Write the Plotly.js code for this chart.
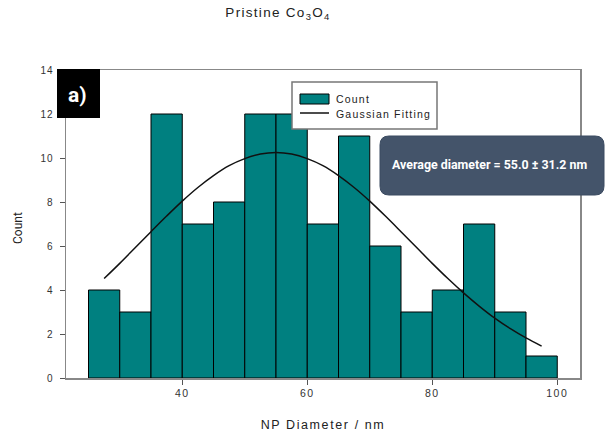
<!DOCTYPE html>
<html>
<head>
<meta charset="utf-8">
<script src="https://cdn.plot.ly/plotly-3.0.1.min.js"></script>
<style>
html, body { margin: 0; padding: 0; background: #fff; }
#chart { width: 605px; height: 437px; }
.xtick text { letter-spacing: 1.5px; }
.ytick text { letter-spacing: 1px; }
.gtitle { letter-spacing: 1.3px; }
.xtitle { letter-spacing: 1.6px; }
.annotation[data-index="1"] text, .annotation[data-index="2"] text { letter-spacing: 1.2px; }
</style>
</head>
<body>
<div id="chart"></div>
<script>
// Histogram bins (NP diameter, nm) and counts
const binCenters = [27.5, 32.5, 37.5, 42.5, 47.5, 52.5, 57.5, 62.5, 67.5, 72.5, 77.5, 82.5, 87.5, 92.5, 97.5];
const counts     = [4, 3, 12, 7, 8, 12, 12, 7, 11, 6, 3, 4, 7, 3, 1];
const binWidth = 5;

// Gaussian fitting curve
const fitX = [27.5, 30, 32.5, 35, 37.5, 40, 42.5, 45, 47.5, 50, 52.5, 55, 57.5, 60, 62.5, 65, 67.5, 70, 72.5, 75, 77.5, 80, 82.5, 85, 87.5, 90, 92.5, 95, 97.5];
const fitY = [4.52, 5.21, 5.93, 6.65, 7.36, 8.04, 8.66, 9.20, 9.65, 9.97, 10.18, 10.25, 10.18, 9.97, 9.65, 9.20, 8.66, 8.04, 7.36, 6.65, 5.93, 5.21, 4.52, 3.87, 3.27, 2.72, 2.24, 1.82, 1.45];

const xTickVals = [40, 60, 80, 100];
const yTickVals = [0, 2, 4, 6, 8, 10, 12, 14];

const W = 605, H = 437;
const M = {l: 66, r: 25, t: 70, b: 59};
const PW = W - M.l - M.r, PH = H - M.t - M.b;
const px = v => (v - M.l) / PW;
const py = v => (H - M.b - v) / PH;

function roundRect(x0, y0, x1, y1, r) {
  const rx = r / PW, ry = r / PH;
  const a = px(x0), b = px(x1), top = py(y0), bot = py(y1);
  return `M ${a + rx} ${top} L ${b - rx} ${top} Q ${b} ${top} ${b} ${top - ry} ` +
         `L ${b} ${bot + ry} Q ${b} ${bot} ${b - rx} ${bot} ` +
         `L ${a + rx} ${bot} Q ${a} ${bot} ${a} ${bot + ry} ` +
         `L ${a} ${top - ry} Q ${a} ${top} ${a + rx} ${top} Z`;
}

const sans = 'Liberation Sans, Arial, sans-serif';
const narrow = 'Liberation Sans Narrow, Roboto, Arial, sans-serif';

const traces = [
  {
    type: 'bar', x: binCenters, y: counts, width: binWidth,
    marker: {color: '#008080', line: {color: '#000', width: 1}},
    showlegend: false, hoverinfo: 'x+y'
  },
  {
    type: 'scatter', mode: 'lines', x: fitX, y: fitY,
    line: {color: '#111', width: 1.5, shape: 'spline'},
    showlegend: false
  }
];

const layout = {
  width: W, height: H,
  margin: M,
  paper_bgcolor: '#fff', plot_bgcolor: '#fff',
  showlegend: false,
  bargap: 0,
  title: {
    text: 'Pristine Co<sub>3</sub>O<sub>4</sub>',
    font: {family: sans, size: 13.5, color: '#222'},
    xref: 'paper', x: px(278), xanchor: 'center',
    yref: 'container', y: 1 - 12 / H, yanchor: 'middle'
  },
  xaxis: {
    range: [21.4, 103.64],
    tickvals: xTickVals, ticktext: xTickVals.map(String),
    ticks: 'outside', ticklen: 5, tickwidth: 1, tickcolor: '#555',
    showline: true, linecolor: '#888', linewidth: 1.5, mirror: true,
    showgrid: false, zeroline: false,
    tickfont: {family: sans, size: 10.5, color: '#333'},
    title: {text: 'NP Diameter / nm', font: {family: sans, size: 12.5, color: '#222'}, standoff: 22}
  },
  yaxis: {
    range: [0, 14],
    tickvals: yTickVals, ticktext: yTickVals.map(String),
    ticks: 'outside', ticklen: 5, tickwidth: 1, tickcolor: '#555',
    ticklabelstandoff: 4,
    showline: true, linecolor: '#888', linewidth: 1.5, mirror: true,
    showgrid: false, zeroline: false,
    tickfont: {family: sans, size: 10, color: '#333'}
  },
  shapes: [
    {type: 'rect', xref: 'paper', yref: 'paper', x0: px(57), x1: px(100), y0: py(118), y1: py(69),
     fillcolor: '#000', line: {width: 0}, layer: 'above'},
    {type: 'rect', xref: 'paper', yref: 'paper', x0: px(292), x1: px(437), y0: py(129), y1: py(82),
     fillcolor: '#fff', line: {color: '#777', width: 1.5}, layer: 'above'},
    {type: 'rect', xref: 'paper', yref: 'paper', x0: px(300), x1: px(329), y0: py(104), y1: py(94),
     fillcolor: '#008080', line: {color: '#000', width: 1}, layer: 'above'},
    {type: 'line', xref: 'paper', yref: 'paper', x0: px(300), x1: px(329), y0: py(113), y1: py(113),
     line: {color: '#111', width: 1.5}, layer: 'above'},
    {type: 'path', xref: 'paper', yref: 'paper', path: roundRect(380, 136, 604, 195, 9),
     fillcolor: '#44546A', line: {color: '#3a4a60', width: 1}, layer: 'above'}
  ],
  annotations: [
    {xref: 'paper', yref: 'paper', x: px(77), y: py(95), text: '<b>a)</b>', showarrow: false,
     xanchor: 'center', yanchor: 'middle', font: {family: narrow, size: 21, color: '#fff'}},
    {xref: 'paper', yref: 'paper', x: px(335), y: py(99), text: 'Count', showarrow: false,
     xanchor: 'left', yanchor: 'middle', font: {family: sans, size: 10.5, color: '#222'}},
    {xref: 'paper', yref: 'paper', x: px(335), y: py(113.5), text: 'Gaussian Fitting', showarrow: false,
     xanchor: 'left', yanchor: 'middle', font: {family: sans, size: 10.5, color: '#222'}},
    {xref: 'paper', yref: 'paper', x: px(390), y: py(164), text: '<b>Average diameter = 55.0 ± 31.2 nm</b>', showarrow: false,
     xanchor: 'left', yanchor: 'middle', font: {family: narrow, size: 12.4, color: '#fff'}},
    {xref: 'paper', yref: 'paper', x: px(18), y: py(228), text: 'Count', showarrow: false, textangle: -90,
     xanchor: 'center', yanchor: 'middle', font: {family: narrow, size: 12, color: '#222'}}
  ]
};

const gd = document.getElementById('chart');
Plotly.newPlot(gd, traces, layout, {displayModeBar: false, staticPlot: true}).then(() => {
  // align letter-spaced legend labels to a common left edge
  const root = gd.getBoundingClientRect();
  ['1', '2'].forEach(idx => {
    const g = gd.querySelector('.annotation[data-index="' + idx + '"]');
    if (!g) return;
    const t = g.querySelector('text');
    if (!t) return;
    const left = t.getBoundingClientRect().left - root.left;
    const shift = 336 - left;
    t.setAttribute('transform', 'translate(' + shift.toFixed(1) + ',0)');
  });
});
</script>
</body>
</html>
